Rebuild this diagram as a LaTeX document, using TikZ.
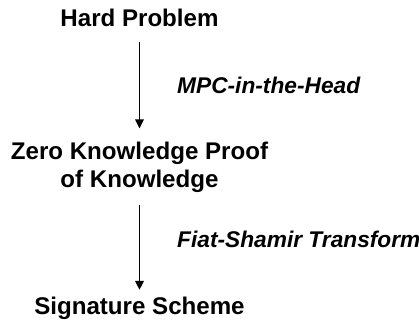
\documentclass[tikz,border=0pt]{standalone}
\usepackage{fontspec}
\setmainfont{Liberation Sans}
\usetikzlibrary{arrows.meta}
\begin{document}
\begin{tikzpicture}[x=1bp,y=1bp,
  stage/.style={font=\fontsize{24.2}{29}\selectfont\bfseries, inner sep=0pt, align=center, anchor=base},
  step label/.style={font=\fontsize{22.8}{27}\selectfont\bfseries\itshape, inner sep=0pt, anchor=base west},
  flow/.style={line width=1.6bp, -{Triangle[length=9bp,width=8.5bp]}}]
  \useasboundingbox (0,0) rectangle (419,325);
  % stages
  \node[stage] (hard) at (139.5,299) {Hard Problem};
  \node[stage] (zk) at (139.5,137) {Zero Knowledge Proof\\of Knowledge};
  \node[stage] (sig) at (139.5,11) {Signature Scheme};
  % transformation labels
  \node[step label] (mpc) at (177,232) {MPC-in-the-Head};
  \node[step label] (fs) at (177,78) {Fiat-Shamir Transform};
  % arrows between stages
  \draw[flow, shorten <=16bp, shorten >=13bp] (hard.south) -- (zk.north);
  \draw[flow, shorten <=12bp, shorten >=6.5bp] (zk.south) -- (sig.north);
\end{tikzpicture}
\end{document}
